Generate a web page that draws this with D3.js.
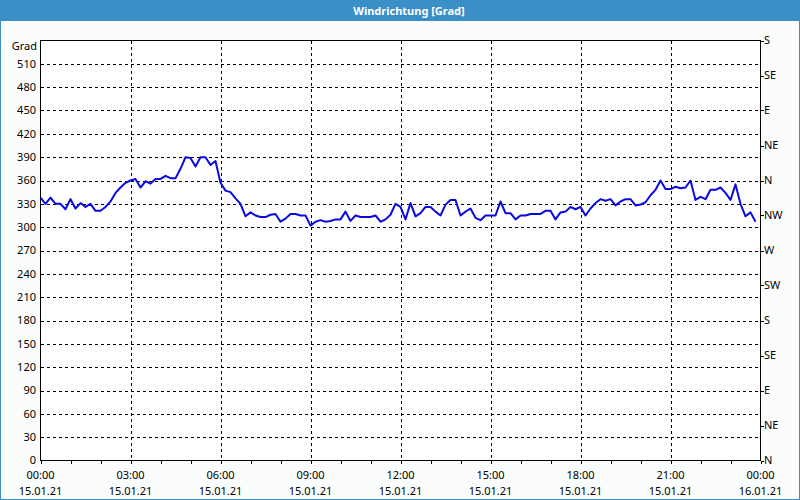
<!DOCTYPE html>
<html>
<head>
<meta charset="utf-8">
<script src="https://cdn.jsdelivr.net/npm/d3@7"></script>
<style>
  html, body { margin: 0; padding: 0; background: #fbfdfd; }
  svg { display: block; }
  text { font-family: "Noto Sans", "Liberation Sans", sans-serif; }
</style>
</head>
<body>
<svg id="chart" width="800" height="500"></svg>
<script>
// ---- data ----
const chartTitle = "Windrichtung [Grad]";
const unitLabel = "Grad";
const startTime = new Date(2021, 0, 15, 0, 0);
const endTime = new Date(2021, 0, 16, 0, 0);
const stepMinutes = 10;
const directionValues = [
  338, 330, 338, 330, 330, 323, 336, 324, 331, 326,
  330, 321, 321, 326, 333, 344, 351, 357, 360, 362,
  351, 359, 356, 362, 362, 366, 363, 363, 375, 390,
  389, 378, 390, 390, 380, 385, 357, 347, 345, 337,
  330, 314, 319, 315, 313, 313, 316, 317, 307, 311,
  317, 317, 315, 315, 302, 307, 309, 307, 308, 310,
  310, 320, 308, 315, 313, 313, 313, 315, 307, 310,
  316, 330,
  326, 310, 331, 314, 318, 326, 326, 320, 315, 329,
  335, 335, 315, 320, 324, 312, 309, 315, 315, 315,
  333, 318, 318, 310, 315, 315, 317, 317, 317, 321,
  321, 310, 319, 320, 326, 323, 326, 315, 324, 331,
  336, 334, 336, 328, 333, 336, 336, 328, 329, 332,
  341, 348, 360, 349, 349, 352, 350, 351, 360, 335,
  339, 336, 348, 348, 351, 344, 335, 355, 330, 314,
  319, 307
];
const leftTickValues = [0, 30, 60, 90, 120, 150, 180, 210, 240, 270, 300, 330, 360, 390, 420, 450, 480, 510];
const compassValues = [0, 45, 90, 135, 180, 225, 270, 315, 360, 405, 450, 495, 540];
const compassLabels = ["N", "NE", "E", "SE", "S", "SW", "W", "NW", "N", "NE", "E", "SE", "S"];
const majorTickHours = [0, 3, 6, 9, 12, 15, 18, 21, 24];
const yMax = 540;

// ---- layout ----
const W = 800, H = 500;
const plot = { left: 40.5, right: 760.5, top: 40.5, bottom: 460.5 };

const svg = d3.select("#chart");

const points = directionValues.map((v, i) => ({
  t: d3.timeMinute.offset(startTime, i * stepMinutes),
  v
}));

const x = d3.scaleTime().domain([startTime, endTime]).range([plot.left, plot.right]);
const y = d3.scaleLinear().domain([0, yMax]).range([plot.bottom, plot.top]);

// background
svg.append("rect").attr("x", 0).attr("y", 0).attr("width", W).attr("height", H).attr("fill", "#fbfdfd");
// title bar
svg.append("rect").attr("x", 0).attr("y", 0).attr("width", W).attr("height", 21).attr("fill", "#3b8fc7");
svg.append("text").attr("x", 409).attr("y", 11).attr("dy", "0.35em")
  .attr("text-anchor", "middle").attr("fill", "#ffffff")
  .attr("font-size", 11).attr("font-weight", "bold").text(chartTitle);
// window border
svg.append("rect").attr("x", 0.5).attr("y", 0.5).attr("width", W - 1).attr("height", H - 1)
  .attr("fill", "none").attr("stroke", "#3b8fc7").attr("stroke-width", 1);

// plot background
svg.append("rect").attr("x", plot.left).attr("y", plot.top)
  .attr("width", plot.right - plot.left).attr("height", plot.bottom - plot.top).attr("fill", "#ffffff");

const hourTimes = d3.timeHour.range(startTime, d3.timeMinute.offset(endTime, 1));
const majorTimes = majorTickHours.map(h => d3.timeHour.offset(startTime, h));

// grid
const grid = svg.append("g").attr("stroke", "#000").attr("stroke-width", 1)
  .attr("stroke-dasharray", "3,3").attr("shape-rendering", "crispEdges");
grid.selectAll("line.h").data(leftTickValues.filter(v => v > 0)).join("line")
  .attr("x1", plot.left).attr("x2", plot.right)
  .attr("y1", d => Math.round(y(d)) + 0.5).attr("y2", d => Math.round(y(d)) + 0.5);
grid.selectAll("line.v").data(majorTimes.slice(1, -1)).join("line")
  .attr("y1", plot.top).attr("y2", plot.bottom)
  .attr("x1", d => Math.round(x(d)) + 0.5).attr("x2", d => Math.round(x(d)) + 0.5);

// frame
svg.append("rect").attr("x", plot.left).attr("y", plot.top)
  .attr("width", plot.right - plot.left).attr("height", plot.bottom - plot.top)
  .attr("fill", "none").attr("stroke", "#000").attr("stroke-width", 1)
  .attr("shape-rendering", "crispEdges");

// bottom axis ticks (each hour)
svg.append("g").attr("stroke", "#000").attr("shape-rendering", "crispEdges")
  .selectAll("line").data(hourTimes).join("line")
  .attr("x1", d => Math.round(x(d)) + 0.5).attr("x2", d => Math.round(x(d)) + 0.5)
  .attr("y1", plot.bottom).attr("y2", plot.bottom + 3);

// bottom labels
const fmtTime = d3.timeFormat("%H:%M");
const fmtDate = d3.timeFormat("%d.%m.%y");
const bl = svg.append("g").attr("font-size", 11).attr("fill", "#000").attr("text-anchor", "middle");
bl.selectAll("text.t").data(majorTimes).join("text")
  .attr("x", d => x(d)).attr("y", 475).attr("dy", "0.35em").text(d => fmtTime(d));
bl.selectAll("text.d").data(majorTimes).join("text")
  .attr("x", d => x(d)).attr("y", 491).attr("dy", "0.35em").text(d => fmtDate(d));

// left labels
const ll = svg.append("g").attr("font-size", 11).attr("fill", "#000").attr("text-anchor", "end");
ll.selectAll("text").data(leftTickValues).join("text")
  .attr("x", 36).attr("y", d => y(d)).attr("dy", "0.35em").text(d => d);
ll.append("text").attr("x", 37).attr("y", 46).attr("dy", "0.35em").text(unitLabel);

// right axis ticks and labels
svg.append("g").attr("stroke", "#000").attr("shape-rendering", "crispEdges")
  .selectAll("line").data(compassValues).join("line")
  .attr("x1", plot.right).attr("x2", plot.right + 3)
  .attr("y1", d => Math.round(y(d)) + 0.5).attr("y2", d => Math.round(y(d)) + 0.5);
svg.append("g").attr("font-size", 11).attr("fill", "#000")
  .selectAll("text").data(compassValues).join("text")
  .attr("x", 764).attr("y", d => y(d)).attr("dy", "0.35em")
  .text((d, i) => compassLabels[i]);

// line
const line = d3.line().x(d => x(d.t)).y(d => y(d.v));
svg.append("path").datum(points).attr("d", line)
  .attr("fill", "none").attr("stroke", "#0a0ae0").attr("stroke-width", 2)
  .attr("stroke-linejoin", "round");
</script>
</body>
</html>
